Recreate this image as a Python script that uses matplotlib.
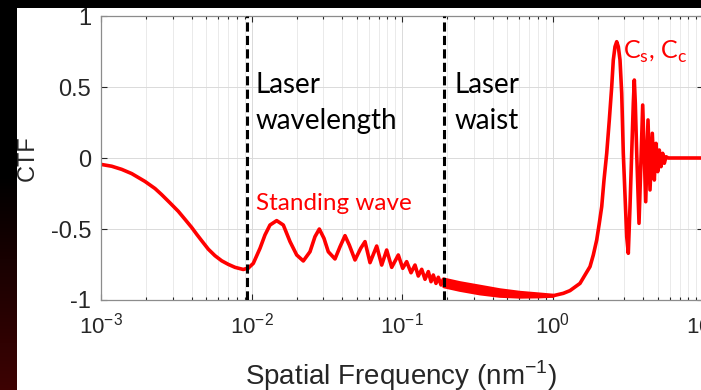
import matplotlib
matplotlib.use("Agg")
import matplotlib.pyplot as plt
import numpy as np

# ---------------------------------------------------------------- data
# CTF curve (spatial frequency in nm^-1, CTF value)
freq_low = [0.00100, 0.001178, 0.001372, 0.00160, 0.00196, 0.002285,
            0.00253, 0.002873, 0.00326, 0.003615, 0.00401, 0.004324,
            0.00467, 0.005164, 0.00572, 0.006339, 0.00701, 0.007771,
            0.00882, 0.00952]
ctf_low = [-0.045, -0.058, -0.080, -0.110, -0.165, -0.215,
           -0.258, -0.316, -0.375, -0.432, -0.490, -0.537,
           -0.583, -0.642, -0.688, -0.724, -0.749, -0.770,
           -0.785, -0.775]

# standing-wave oscillations
freq_sw = [0.01028, 0.01139, 0.01229, 0.01327, 0.01470, 0.01627, 0.01803,
           0.01997, 0.02209, 0.02447, 0.02641, 0.02822, 0.03032, 0.03238,
           0.03587, 0.03873, 0.04181, 0.04465, 0.04872, 0.05316, 0.05678,
           0.06129, 0.06790, 0.07330, 0.07911, 0.08543, 0.09449, 0.1011,
           0.1074, 0.1148, 0.1220, 0.1283, 0.1352, 0.1422, 0.1496, 0.1559,
           0.1614, 0.1682, 0.1743, 0.1816, 0.1881]
ctf_sw = [-0.742, -0.636, -0.542, -0.472, -0.441, -0.472, -0.589,
          -0.683, -0.725, -0.660, -0.554, -0.500, -0.566, -0.660,
          -0.711, -0.625, -0.547, -0.613, -0.718, -0.636, -0.589,
          -0.737, -0.620, -0.754, -0.648, -0.770, -0.683, -0.777,
          -0.730, -0.808, -0.754, -0.831, -0.784, -0.854, -0.800, -0.871,
          -0.824, -0.883, -0.840, -0.894, -0.854]

# unresolved fast oscillation beyond the laser waist (envelope)
freq_band = [0.1901, 0.2428, 0.3300, 0.4478, 0.6083, 0.8259, 1.008]
band_hi = [-0.855, -0.880, -0.905, -0.930, -0.948, -0.960, -0.968]
band_lo = [-0.905, -0.930, -0.955, -0.972, -0.978, -0.976, -0.972]

# Cs / Cc region
freq_cs = [1.008, 1.180, 1.307, 1.523, 1.644, 1.775, 1.867, 1.967, 2.046,
           2.123, 2.199, 2.292, 2.385, 2.474, 2.535, 2.602, 2.671, 2.737,
           2.809, 2.883, 2.954, 3.112, 3.189, 3.273, 3.359, 3.443, 3.496,
           3.550, 3.627, 3.757, 3.975, 4.162, 4.311, 4.445, 4.604, 4.747,
           4.873, 5.000, 5.124, 5.259, 5.398, 5.533, 5.676, 5.880, 10.0]
ctf_cs = [-0.970, -0.953, -0.934, -0.883, -0.824, -0.765, -0.683, -0.577,
          -0.460, -0.343, -0.155, 0.033, 0.268, 0.502, 0.690, 0.784, 0.819,
          0.784, 0.690, 0.456, 0.033, -0.554, -0.671, -0.343, 0.033, 0.385,
          0.549, 0.385, 0.033, -0.460, 0.373, -0.308, 0.268, -0.225, 0.174,
          -0.155, 0.103, -0.096, 0.056, -0.061, 0.033, -0.037, 0.009, 0.0,
          0.0]

laser_wavelength = 0.0093
laser_waist = 0.19

RED = "#FF0000"
INK = "#262626"
TICK_FONT = "Liberation Sans"
NOTE_FONT = "Lato"

# ---------------------------------------------------------------- figure
fig = plt.figure(figsize=(7.01, 3.90), dpi=100, facecolor="black")

# slide background: black frame with dark-red gradient on the left strip
bg = fig.add_axes([0, 0, 1, 1], zorder=-10)
bg.set_xlim(0, 701)
bg.set_ylim(390, 0)
bg.axis("off")
grad = np.linspace(0, 1, 200)[:, None]
grad = np.clip((grad - 0.45) / 0.55, 0, 1)
rgb = np.dstack([0.24 * grad, 0.01 * grad, 0.01 * grad])
bg.imshow(rgb, extent=[0, 17, 390, 0], aspect="auto")
bg.add_patch(plt.Rectangle((17, 8), 684, 382, color="white", lw=0))

ax = fig.add_axes([101 / 701, 1 - 300 / 390, 602 / 701, 284 / 390])
ax.set_xscale("log")
ax.set_xlim(1e-3, 1e1)
ax.set_ylim(-1, 1)

ax.grid(True, which="major", color="#DADADA", lw=0.7)
ax.grid(True, which="minor", axis="x", color="#E6E6E6", lw=0.6)
ax.set_axisbelow(True)

lw = 2.6
kw = dict(color=RED, lw=lw, solid_joinstyle="round", solid_capstyle="round")
ax.plot(freq_low, ctf_low, **kw)
ax.plot([freq_low[-1]] + freq_sw + [freq_band[0]],
        [ctf_low[-1]] + ctf_sw + [band_hi[0]], **kw)
ax.fill_between(freq_band, band_lo, band_hi, color=RED, lw=0)
ax.plot(freq_band, band_hi, **kw)
ax.plot(freq_band, band_lo, **kw)
ax.plot(freq_cs, ctf_cs, **kw)

for xv in (laser_wavelength, laser_waist):
    ax.axvline(xv, color="black", lw=2.2, dashes=(3.0, 1.4), zorder=5)

ax.set_yticks([-1, -0.5, 0, 0.5, 1])
ax.set_yticklabels(["-1", "-0.5", "0", "0.5", "1"])
ax.set_xticks([1e-3, 1e-2, 1e-1, 1e0, 1e1])
ax.set_xticklabels(["$\\mathregular{10^{-3}}$", "$\\mathregular{10^{-2}}$",
                    "$\\mathregular{10^{-1}}$", "$\\mathregular{10^{0}}$",
                    "$\\mathregular{10^{1}}$"])
ax.tick_params(which="both", direction="in", top=True, right=True,
               colors=INK, width=0.8)
ax.tick_params(which="major", length=4)
ax.tick_params(which="minor", length=2)
ax.tick_params(axis="y", labelsize=17, pad=7)
ax.tick_params(axis="x", labelsize=16, pad=9)
for lab in ax.get_xticklabels() + ax.get_yticklabels():
    lab.set_family(TICK_FONT)
for sp in ax.spines.values():
    sp.set_color("#8C8C8C")
    sp.set_linewidth(0.9)

ax.set_xlabel("Spatial Frequency (nm$^{\\mathregular{-1}}$)", fontsize=20,
              family=TICK_FONT, color=INK, va="baseline")
ax.xaxis.set_label_coords(0.499, -0.299)
ax.set_ylabel("CTF", fontsize=17, family=TICK_FONT, color=INK,
              va="center")
ax.yaxis.set_label_coords(-0.1215, 0.5)

note = dict(fontsize=20, family=NOTE_FONT, ha="left", va="baseline")
ax.text(0.0107, 0.456, "Laser", color="black", **note)
ax.text(0.0107, 0.202, "wavelength", color="black", **note)
ax.text(0.222, 0.456, "Laser", color="black", **note)
ax.text(0.222, 0.202, "waist", color="black", **note)
ax.text(0.0107, -0.366, "Standing wave", fontsize=17.5, family=NOTE_FONT,
        color=RED, ha="left", va="baseline")
ax.text(2.95, 0.702, "C$_\\mathregular{s}$, C$_\\mathregular{c}$",
        fontsize=18, family=NOTE_FONT, color=RED, ha="left", va="baseline")

fig.savefig("out.png", dpi=100, facecolor=fig.get_facecolor())
